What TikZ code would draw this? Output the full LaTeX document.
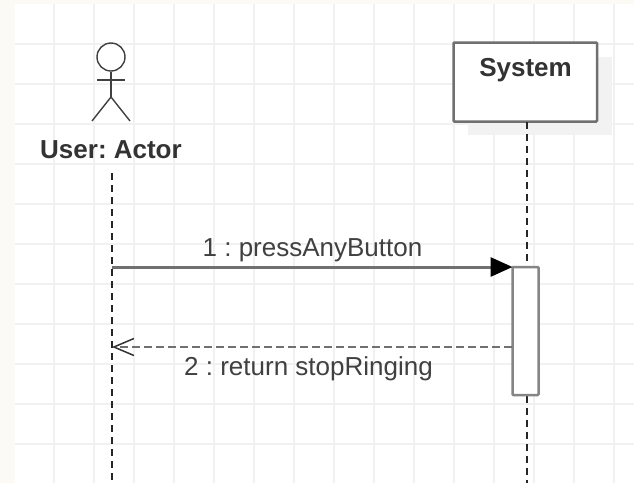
\documentclass[tikz,border=0pt]{standalone}
\usepackage{fontspec}
\setmainfont{Liberation Sans}
\usetikzlibrary{arrows.meta}
\frenchspacing
\definecolor{paper}{HTML}{FBFAF5}
\definecolor{gridline}{HTML}{F1F1F1}
\definecolor{edge}{HTML}{707070}
\tikzset{gridrule/.style={gridline, line width=1.5pt}}
\tikzset{stick/.style={draw=black!75, line width=1.4pt}}
\tikzset{lifeline/.style={black!85, line width=2pt, dash pattern=on 6.5pt off 5.5pt}}
\tikzset{lbl/.style={inner sep=0pt, text=black!75, font=\fontsize{26}{30}\selectfont}}
\tikzset{boldlbl/.style={lbl, text=black!80, font=\fontsize{26}{30}\selectfont\bfseries}}
\tikzset{callmsg/.style={edge, line width=3pt, -{Triangle[length=22pt,width=19pt,color=black]}}}
\tikzset{retmsg/.style={edge, line width=2.5pt, dash pattern=on 8pt off 4pt, -{Straight Barb[length=20pt,width=17pt,color=black!80,line width=1.5pt]}}}

\begin{document}
\begin{tikzpicture}[x=1pt,y=-1pt]
        \useasboundingbox (0,0) rectangle (634,483);
        % Page and grid
        \fill[paper] (0,0) rectangle (634,483);
        \fill[white] (15,4) rectangle (634,483);
        \foreach \x in {54,94,...,614} {
          \draw[gridrule] (\x,4) -- (\x,483);
        }
        \foreach \y in {44,84,...,444} {
          \draw[gridrule] (15,\y) -- (634,\y);
        }
        % Actor
        \node[circle, stick, minimum size=28pt, inner sep=0pt] (head) at (111,57) {};
        \coordinate (hip) at (111,97);
        \coordinate (armL) at (97,80);
        \coordinate (armR) at (125,80);
        \coordinate (footL) at (92,121);
        \coordinate (footR) at (130,121);
        \draw[stick] (head.south) -- (hip);
        \draw[stick] (armL) -- (armR);
        \draw[stick] (footL) -- (hip) -- (footR);
        \node[boldlbl] (userlbl) at (111,150) {User: Actor};
        % System box with its shadow
        \fill[black!5] (468,57) rectangle (612,135);
        \node[draw=edge, fill=white, line width=2.5pt, rounded corners=1pt, outer sep=0pt, minimum width=143.5pt, minimum height=79pt, inner sep=0pt, anchor=north west] (sysbox) at (453.5,42.5) {};
        \node[boldlbl] (syslbl) at (525.5,70) {System};
        % Lifelines
        \coordinate (usertop) at (112,173);
        \coordinate (userend) at (112,483);
        \coordinate (systop) at (526.5,122);
        \coordinate (sysbot) at (526.5,396);
        \coordinate (sysend) at (526.5,483);
        \draw[lifeline] (usertop) -- (userend);
        \draw[lifeline] (systop) -- (526.5,267);
        \draw[lifeline] (sysbot) -- (sysend);
        % Activation
        \node[draw=edge!85, fill=white, line width=2.5pt, rounded corners=1pt, outer sep=0pt, minimum width=26pt, minimum height=128pt, inner sep=0pt, anchor=north west] (activation) at (512.5,267) {};
        % Messages
        \coordinate (callfrom) at (112,267);
        \coordinate (retto) at (112,347);
        \coordinate (retfrom) at (512,347);
        \draw[callmsg] (callfrom) -- (activation.north west);
        \draw[retmsg] (retfrom) -- (retto);
        \node[lbl] (calllbl) at (312.5,250) {1 : pressAnyButton};
        \node[lbl] (retlbl) at (308.5,369) {2 : return stopRinging};
\end{tikzpicture}
\end{document}
